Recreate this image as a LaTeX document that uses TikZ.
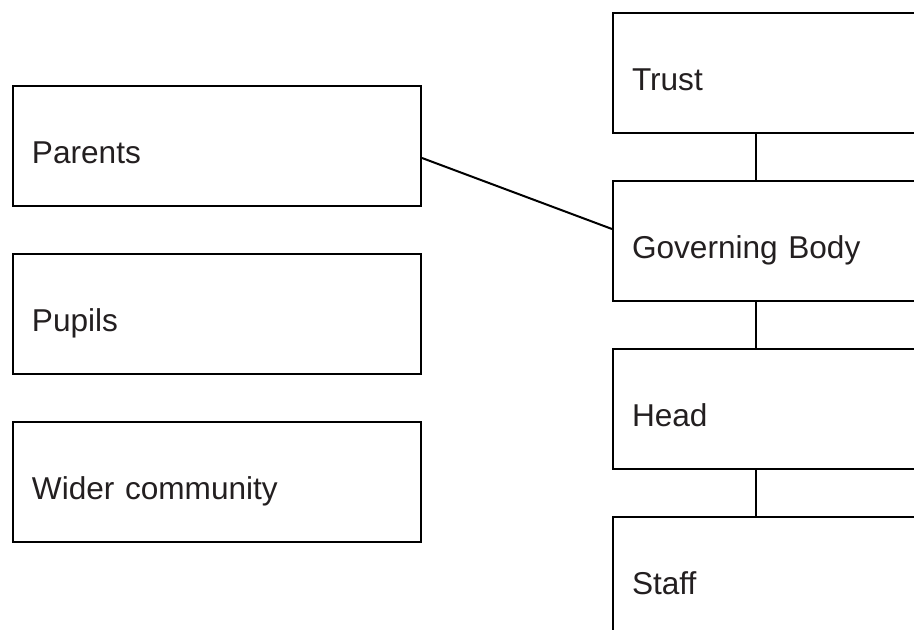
\documentclass[tikz,border=0pt]{standalone}
\usepackage{fontspec}
\setmainfont{Liberation Sans}
\usepackage{tikz}
\usetikzlibrary{positioning}
\definecolor{orgtext}{RGB}{35,31,32}

\begin{document}
\begin{tikzpicture}[
      x=1pt, y=1pt,
      node distance=23pt,
      box/.style={rectangle, draw=black, line width=1pt, inner xsep=9.5pt, inner ysep=0pt,
        minimum height=60pt, text height=17.3pt, text depth=0pt, align=left, text=orgtext,
        font=\fontsize{15.8}{19}\selectfont},
      sidebox/.style={box, minimum width=204pt, text width=185pt},
      chainbox/.style={box, minimum width=200pt, text width=181pt},
      link/.style={draw=black, line width=1pt},
    ]
    \useasboundingbox (0,0) rectangle (457,-315);
    \clip (0,0) rectangle (457,-315);

    % left column
    \node[sidebox, anchor=north west] (parents) at (6,-42.5) {Parents};
    \node[sidebox, below=of parents] (pupils) {Pupils};
    \node[sidebox, below=of pupils] (community) {Wider community};

    % right column
    \node[chainbox, anchor=north west] (trust) at (306,-6) {Trust};
    \node[chainbox, below=of trust] (governing) {Governing Body};
    \node[chainbox, below=of governing] (head) {Head};
    \node[chainbox, below=of head] (staff) {Staff};

    \draw[link] (trust.south -| 378,0) -- (governing.north -| 378,0);
    \draw[link] (governing.south -| 378,0) -- (head.north -| 378,0);
    \draw[link] (head.south -| 378,0) -- (staff.north -| 378,0);
    \draw[link] ([yshift=-6pt]parents.east) -- ([yshift=6pt]governing.west);
  \end{tikzpicture}
\end{document}
